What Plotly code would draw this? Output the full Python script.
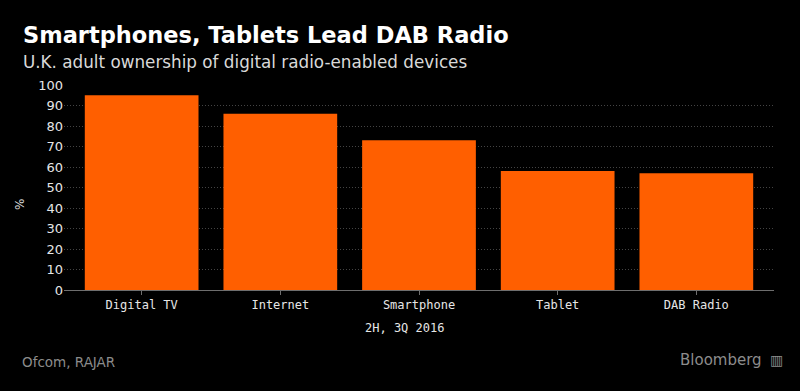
import plotly.graph_objects as go

categories = ["Digital TV", "Internet", "Smartphone", "Tablet", "DAB Radio"]
values = [95, 86, 73, 58, 57]
y_ticks = [0, 10, 20, 30, 40, 50, 60, 70, 80, 90, 100]

fig = go.Figure()
fig.add_trace(go.Bar(
    x=categories, y=values, marker=dict(color="#ff5f00", line=dict(width=0)),
    width=0.82, hoverinfo="skip"
))

fig.update_layout(
    width=800, height=391,
    paper_bgcolor="#000000", plot_bgcolor="#000000",
    margin=dict(l=64, r=26, t=85, b=101),
    showlegend=False,
    xaxis=dict(
        range=[-0.56, 4.56], showgrid=False, showline=True, linecolor="#6e6e6e", linewidth=1,
        ticks="outside", tickcolor="#6e6e6e", ticklen=4,
        tickfont=dict(family="DejaVu Sans Mono", size=12, color="#e6e6e6"),
        zeroline=False,
    ),
    yaxis=dict(
        range=[0, 100], tickvals=y_ticks, showgrid=True, gridcolor="#444444", griddash="1px,2px",
        gridwidth=1, zeroline=False, showline=False, ticks="",
        tickfont=dict(family="DejaVu Sans", size=13, color="#e6e6e6"),
    ),
    annotations=[
        dict(text="<b>Smartphones, Tablets Lead DAB Radio</b>", x=21, y=35, showarrow=False,
             font=dict(family="DejaVu Sans", size=22.5, color="#ffffff"),
             xanchor="left", yanchor="middle"),
        dict(text="U.K. adult ownership of digital radio-enabled devices", x=21, y=62, showarrow=False,
             font=dict(family="DejaVu Sans", size=16.8, color="#d9d9d9"), xanchor="left", yanchor="middle"),
        dict(text="%", x=20, y=205, textangle=-90, showarrow=False,
             font=dict(family="DejaVu Sans", size=12, color="#d9d9d9"), xanchor="center", yanchor="middle"),
        dict(text="2H, 3Q 2016", x=404, y=328, showarrow=False,
             font=dict(family="DejaVu Sans Mono", size=12, color="#e6e6e6"), xanchor="center", yanchor="middle"),
        dict(text="Ofcom, RAJAR", x=20, y=362, showarrow=False,
             font=dict(family="DejaVu Sans", size=13.5, color="#8c8c8c"), xanchor="left", yanchor="middle"),
        dict(text="Bloomberg", x=764, y=360, showarrow=False,
             font=dict(family="DejaVu Sans", size=15, color="#8c8c8c"), xanchor="right", yanchor="middle"),
        dict(text="▥", x=776, y=360, showarrow=False,
             font=dict(family="DejaVu Sans", size=14, color="#8c8c8c"), xanchor="center", yanchor="middle"),
    ],
)

# convert pixel positions of annotations into paper coordinates
W, H = 800, 391
l, r, t, b = 64, 26, 85, 101
pw, ph = W - l - r, H - t - b
for a in fig.layout.annotations:
    px, py = a.x, a.y
    a.xref = "paper"; a.yref = "paper"
    a.x = (px - l) / pw
    a.y = (H - b - py) / ph

fig.write_html("out.html", config={"displayModeBar": False},
               post_script="document.body.style.margin='0';document.body.style.background='#000';")
